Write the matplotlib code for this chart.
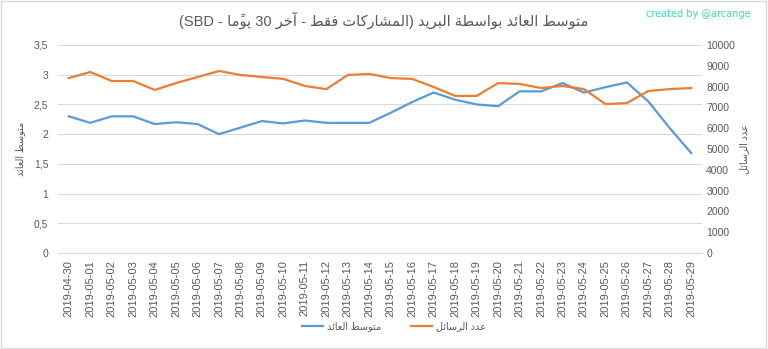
import matplotlib
matplotlib.use("Agg")
import matplotlib.pyplot as plt

dates = ["2019-04-30"] + ["2019-05-%02d" % d for d in range(1, 30)]
avg_reward = [2.30, 2.19, 2.30, 2.30, 2.17, 2.20, 2.17, 2.00, 2.11, 2.22,
              2.18, 2.23, 2.19, 2.19, 2.19, 2.36, 2.54, 2.70, 2.58, 2.50,
              2.47, 2.72, 2.72, 2.86, 2.70, 2.79, 2.87, 2.55, 2.10, 1.68]
msg_count = [8410, 8700, 8270, 8270, 7840, 8170, 8460, 8750, 8560, 8460,
             8370, 8030, 7880, 8560, 8610, 8410, 8370, 7980, 7550, 7550,
             8170, 8130, 7930, 8030, 7880, 7160, 7210, 7790, 7880, 7930]
left_ticks = [0, 0.5, 1, 1.5, 2, 2.5, 3, 3.5]
left_tick_labels = ["0", "0,5", "1", "1,5", "2", "2,5", "3", "3,5"]
right_ticks = list(range(0, 10001, 1000))

title_txt = "متوسط العائد بواسطة البريد (المشاركات فقط - آخر 30 يومًا - SBD)"
avg_name = "متوسط العائد"
cnt_name = "عدد الرسائل"

# minimal arabic shaping: isolated form in Presentation Forms-B, D = dual, R = right-joining
FORMS = {
    "ا": (0xFE8D, "R"), "آ": (0xFE81, "R"), "ب": (0xFE8F, "D"), "ة": (0xFE93, "R"),
    "ت": (0xFE95, "D"), "خ": (0xFEA5, "D"), "د": (0xFEA9, "R"), "ر": (0xFEAD, "R"),
    "س": (0xFEB1, "D"), "ش": (0xFEB5, "D"), "ط": (0xFEC1, "D"), "ع": (0xFEC9, "D"),
    "ف": (0xFED1, "D"), "ق": (0xFED5, "D"), "ك": (0xFED9, "D"), "ل": (0xFEDD, "D"),
    "م": (0xFEE1, "D"), "و": (0xFEED, "R"), "ي": (0xFEF1, "D"), "ئ": (0xFE89, "D"),
}
MARKS = "\u064b"


def shape(s):
    chars = list(s)
    out = []
    for i, c in enumerate(chars):
        if c not in FORMS:
            out.append(c)
            continue
        j = i - 1
        while j >= 0 and chars[j] in MARKS:
            j -= 1
        k = i + 1
        while k < len(chars) and chars[k] in MARKS:
            k += 1
        prev_joins = j >= 0 and chars[j] in FORMS and FORMS[chars[j]][1] == "D"
        next_joins = k < len(chars) and chars[k] in FORMS
        base, jt = FORMS[c]
        if jt == "R":
            form = 1 if prev_joins else 0
        elif prev_joins and next_joins:
            form = 3
        elif next_joins:
            form = 2
        elif prev_joins:
            form = 1
        else:
            form = 0
        out.append(chr(base + form))
    # visual order for an RTL line
    units = []
    for c in out:
        if c in MARKS and units:
            units[-1] += c
        else:
            units.append(c)
    runs = []
    for u in units:
        ltr = u.isascii() and u.isalnum()
        if runs and ltr and runs[-1][0]:
            runs[-1][1].append(u)
        else:
            runs.append([ltr, [u]])
    mirror = {"(": ")", ")": "("}
    vis = []
    for ltr, us in reversed(runs):
        if ltr:
            vis.append("".join(us))
        else:
            vis.append("".join(mirror.get(u, u) for u in us))
    return "".join(vis)


FAM = ["Liberation Sans", "DejaVu Sans"]
plt.rcParams["font.family"] = FAM

blue = "#5B9BD5"
orange = "#ED7D31"
grey_txt = "#595959"

fig = plt.figure(figsize=(7.68, 3.49), dpi=100)
ax = fig.add_axes([58 / 768, 1 - 253 / 349, 644 / 768, 208 / 349])
ax2 = ax.twinx()

x = list(range(len(dates)))
l1, = ax.plot(x, avg_reward, color=blue, lw=1.6, label=shape(avg_name))
l2, = ax2.plot(x, msg_count, color=orange, lw=1.6, label=shape(cnt_name))

ax.set_xlim(-0.5, len(dates) - 0.5)
ax.set_ylim(0, 3.5)
ax2.set_ylim(0, 10000)
ax.set_yticks(left_ticks)
ax.set_yticklabels(left_tick_labels)
ax2.set_yticks(right_ticks)
ax.set_xticks(x)
ax.set_xticklabels(dates, rotation=90)
ax.yaxis.grid(True, color="#D9D9D9", lw=0.8)
ax.set_axisbelow(True)
for a in (ax, ax2):
    for sp in a.spines.values():
        sp.set_visible(False)
    a.tick_params(length=0, labelsize=7.5, colors=grey_txt)
ax.spines["bottom"].set_visible(True)
ax.spines["bottom"].set_color("#D9D9D9")
ax.tick_params(axis="x", labelsize=8, pad=5)
ax.tick_params(axis="y", pad=7)
ax2.tick_params(axis="y", pad=3)

ax.set_ylabel(shape(avg_name), fontsize=7, color=grey_txt, labelpad=6)
ax2.set_ylabel(shape(cnt_name), fontsize=7, color=grey_txt, rotation=90, labelpad=3)

fig.text(0.5, 1 - 20 / 349, shape(title_txt), ha="center", va="center",
         fontsize=10.5, color=grey_txt)
fig.text(750 / 768, 1 - 14 / 349, "created by @arcange", ha="right", va="center",
         fontsize=7, color="#3DDBB0", family="DejaVu Sans")

fig.legend(handles=[l1, l2], loc="center", bbox_to_anchor=(0.513, 1 - 326 / 349),
           ncol=2, frameon=False, fontsize=7, labelcolor=grey_txt,
           handlelength=2.2, handletextpad=0.4, columnspacing=3.0)

fig.add_artist(plt.Rectangle((0.001, 0.002), 0.997, 0.995, transform=fig.transFigure,
                             fill=False, ec="#D9D9D9", lw=1))

fig.savefig("out.png", dpi=100)
